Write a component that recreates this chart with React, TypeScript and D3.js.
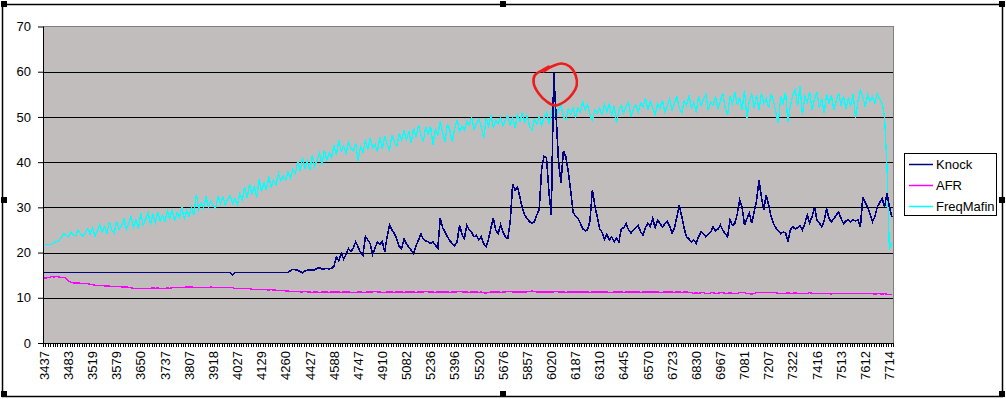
import React, { useEffect, useRef } from 'react';
import * as d3 from 'd3';

// rpm labels shown under every 10th category
const xTickLabels = [
  '3437', '3483', '3519', '3579', '3650', '3737', '3807', '3918', '4027', '4129',
  '4260', '4427', '4588', '4747', '4910', '5082', '5236', '5396', '5520', '5676',
  '5857', '6020', '6187', '6310', '6445', '6570', '6723', '6830', '6967', '7081',
  '7207', '7322', '7416', '7513', '7612', '7714',
];
const yTicks = [0, 10, 20, 30, 40, 50, 60, 70];

const knock = [
  15.6, 15.6, 15.6, 15.6, 15.6, 15.6, 15.6, 15.6, 15.6, 15.6,
  15.6, 15.6, 15.6, 15.6, 15.6, 15.6, 15.6, 15.6, 15.6, 15.6,
  15.6, 15.6, 15.6, 15.6, 15.6, 15.6, 15.6, 15.6, 15.6, 15.6,
  15.6, 15.6, 15.6, 15.6, 15.6, 15.6, 15.6, 15.6, 15.6, 15.6,
  15.6, 15.6, 15.6, 15.6, 15.6, 15.6, 15.6, 15.6, 15.6, 15.6,
  15.6, 15.6, 15.6, 15.6, 15.6, 15.6, 15.6, 15.6, 15.6, 15.6,
  15.6, 15.6, 15.6, 15.6, 15.6, 15.6, 15.6, 15.6, 15.6, 15.6,
  15.6, 15.6, 15.6, 15.6, 15.6, 15.6, 15.6, 15.6, 15.1, 15.6,
  15.6, 15.6, 15.6, 15.6, 15.6, 15.6, 15.6, 15.6, 15.6, 15.6,
  15.6, 15.6, 15.6, 15.6, 15.6, 15.6, 15.6, 15.6, 15.6, 15.6,
  15.6, 15.6, 16.0, 16.3, 16.2, 16.1, 15.8, 15.5, 15.9, 16.1,
  16.1, 16.1, 16.2, 16.5, 16.6, 16.4, 16.4, 16.5, 16.4, 16.5,
  17.0, 19.0, 18.2, 19.8, 18.6, 19.6, 20.9, 20.2, 21.0, 22.4,
  21.2, 20.0, 19.4, 23.6, 22.8, 22.0, 19.6, 21.0, 22.4, 21.8,
  22.4, 20.2, 23.5, 26.2, 25.0, 24.2, 23.0, 21.4, 20.9, 23.0,
  22.0, 21.2, 20.5, 19.8, 21.5, 22.8, 24.1, 23.0, 22.6, 22.4,
  22.0, 22.4, 21.6, 20.9, 27.6, 25.5, 24.5, 23.5, 22.6, 22.0,
  21.5, 22.4, 26.1, 24.0, 23.1, 26.1, 25.0, 24.5, 23.5, 23.8,
  22.8, 23.5, 22.0, 21.3, 23.0, 25.5, 27.6, 25.0, 24.2, 26.1,
  24.5, 23.5, 23.1, 27.0, 35.1, 33.8, 34.5, 32.3, 29.8, 28.3,
  27.5, 26.8, 26.5, 26.8, 28.3, 29.5, 38.5, 41.3, 41.0, 33.5,
  28.3, 59.6, 50.0, 40.0, 35.5, 42.5, 41.2, 38.0, 33.8, 29.0,
  28.0, 27.6, 26.5, 25.3, 24.8, 25.0, 27.0, 33.8, 30.5, 27.9,
  25.3, 24.5, 23.0, 24.0, 22.8, 23.5, 22.4, 23.2, 22.4, 25.3,
  25.5, 26.4, 25.0, 24.3, 25.0, 25.5, 26.0, 24.5, 23.9, 25.5,
  26.5, 25.8, 27.6, 25.5, 27.2, 26.5, 25.6, 26.4, 27.0, 25.8,
  24.3, 25.5, 27.9, 30.5, 28.0, 25.4, 23.5, 23.0, 22.4, 22.8,
  22.0, 23.5, 24.6, 24.2, 23.5, 24.0, 24.5, 25.7, 24.8, 25.2,
  26.1, 25.0, 24.2, 23.5, 27.2, 26.0, 26.5, 28.5, 31.6, 30.1,
  26.1, 27.5, 28.7, 26.5, 29.0, 31.5, 36.0, 32.3, 29.5, 32.7,
  30.5, 28.0, 26.4, 25.5, 24.8, 24.2, 24.5, 24.4, 22.4, 25.0,
  25.7, 25.2, 25.5, 26.0, 25.0, 26.5, 28.3, 26.5, 28.0, 30.1,
  27.2, 26.5, 25.7, 27.0, 29.8, 27.5, 26.8, 27.5, 28.3, 29.0,
  27.5, 26.4, 27.0, 27.2, 26.8, 27.2, 27.0, 27.2, 25.7, 32.3,
  31.0, 30.1, 28.5, 26.8, 28.0, 30.1, 31.0, 32.0, 30.1, 33.1,
  30.1, 27.9,
];

const afr = [
  14.4, 14.4, 14.5, 14.7, 14.6, 14.7, 14.6, 14.5, 14.5, 14.3,
  13.8, 13.4, 13.3, 13.3, 13.3, 13.2, 13.2, 13.1, 13.1, 13.0,
  12.9, 12.8, 12.7, 12.7, 12.7, 12.6, 12.6, 12.6, 12.5, 12.5,
  12.5, 12.5, 12.4, 12.4, 12.4, 12.3, 12.2, 12.1, 12.0, 12.0,
  12.0, 12.0, 12.1, 12.1, 12.1, 12.2, 12.1, 12.2, 12.1, 12.1,
  12.1, 12.2, 12.1, 12.2, 12.2, 12.2, 12.3, 12.2, 12.3, 12.4,
  12.4, 12.4, 12.3, 12.3, 12.3, 12.3, 12.3, 12.3, 12.3, 12.4,
  12.3, 12.3, 12.3, 12.3, 12.3, 12.2, 12.3, 12.3, 12.2, 12.1,
  12.1, 12.1, 12.0, 12.0, 12.0, 12.0, 11.9, 11.9, 11.9, 11.9,
  11.8, 11.8, 11.8, 11.7, 11.8, 11.7, 11.7, 11.6, 11.6, 11.6,
  11.5, 11.5, 11.4, 11.4, 11.4, 11.4, 11.3, 11.3, 11.4, 11.3,
  11.3, 11.2, 11.3, 11.3, 11.2, 11.3, 11.3, 11.3, 11.2, 11.3,
  11.3, 11.3, 11.3, 11.2, 11.3, 11.3, 11.3, 11.2, 11.2, 11.2,
  11.3, 11.3, 11.2, 11.2, 11.3, 11.3, 11.3, 11.4, 11.3, 11.3,
  11.2, 11.2, 11.3, 11.3, 11.3, 11.2, 11.3, 11.3, 11.3, 11.2,
  11.3, 11.3, 11.3, 11.3, 11.2, 11.3, 11.3, 11.3, 11.4, 11.3,
  11.3, 11.3, 11.2, 11.3, 11.3, 11.3, 11.3, 11.3, 11.2, 11.3,
  11.3, 11.3, 11.4, 11.3, 11.3, 11.3, 11.2, 11.3, 11.3, 11.3,
  11.2, 11.3, 11.1, 11.0, 11.2, 11.3, 11.3, 11.3, 11.3, 11.2,
  11.3, 11.3, 11.4, 11.4, 11.3, 11.3, 11.3, 11.3, 11.3, 11.3,
  11.3, 11.4, 11.5, 11.4, 11.3, 11.3, 11.3, 11.3, 11.3, 11.3,
  11.3, 11.3, 11.4, 11.3, 11.3, 11.3, 11.2, 11.3, 11.3, 11.3,
  11.3, 11.3, 11.3, 11.3, 11.3, 11.3, 11.2, 11.3, 11.3, 11.3,
  11.3, 11.3, 11.3, 11.3, 11.2, 11.2, 11.3, 11.3, 11.3, 11.3,
  11.2, 11.3, 11.3, 11.3, 11.3, 11.3, 11.3, 11.2, 11.3, 11.3,
  11.3, 11.3, 11.3, 11.3, 11.3, 11.2, 11.2, 11.3, 11.3, 11.3,
  11.3, 11.2, 11.3, 11.3, 11.2, 11.3, 11.3, 11.2, 11.1, 11.0,
  11.1, 11.0, 11.1, 11.1, 11.0, 10.9, 11.1, 11.1, 11.0, 11.0,
  11.1, 11.1, 11.0, 11.0, 11.1, 11.0, 10.9, 11.0, 11.1, 11.1,
  11.1, 11.0, 10.9, 10.8, 11.0, 11.1, 11.1, 11.1, 11.1, 11.1,
  11.1, 11.2, 11.2, 11.1, 11.0, 10.9, 11.0, 11.0, 11.1, 11.0,
  11.0, 11.1, 11.0, 11.0, 10.9, 11.0, 11.0, 11.1, 11.0, 11.0,
  11.0, 10.9, 11.0, 11.0, 11.0, 10.9, 10.8, 11.0, 10.9, 11.0,
  11.0, 11.0, 10.9, 11.0, 11.0, 10.9, 10.9, 11.0, 10.9, 10.9,
  10.9, 11.0, 10.9, 10.9, 10.8, 10.9, 10.9, 10.8, 10.9, 10.8,
  10.8, 10.8,
];

const freqMafin = [
  21.8, 21.8, 21.8, 21.8, 22.2, 22.4, 22.6, 23.3, 24.2, 23.8,
  23.5, 24.6, 24.0, 23.6, 25.0, 24.2, 23.5, 24.4, 25.3, 24.0,
  25.5, 23.6, 24.8, 26.2, 24.5, 25.8, 24.2, 26.8, 25.0, 24.3,
  27.0, 25.2, 25.8, 27.5, 25.0, 26.5, 28.0, 25.6, 27.2, 25.3,
  28.7, 26.0, 27.4, 28.9, 26.2, 28.4, 26.6, 29.0, 27.0, 28.2,
  26.8, 29.2, 27.5, 29.5, 27.0, 28.8, 27.8, 30.0, 27.5, 29.2,
  28.0, 30.1, 28.3, 32.9, 29.6, 31.0, 29.8, 32.5, 30.0, 31.5,
  30.4, 29.8, 32.5, 30.8, 32.3, 30.5, 31.8, 32.6, 30.8, 32.0,
  30.6, 33.0, 31.6, 34.5, 32.0, 35.2, 33.0, 34.6, 32.2, 36.2,
  33.5, 35.5, 33.8, 36.8, 34.5, 36.0, 35.0, 37.5, 35.8, 37.0,
  36.0, 37.9, 36.5, 38.5, 37.5, 40.0, 38.0, 41.0, 38.6, 40.2,
  38.2, 41.5, 39.0, 40.5, 42.0, 39.5, 42.6, 40.5, 42.0, 41.0,
  43.8, 41.5, 44.9, 42.5, 43.5, 41.9, 44.5, 43.0, 42.5, 44.2,
  40.3, 43.5, 42.2, 44.6, 42.8, 45.3, 43.2, 44.0, 42.3, 45.5,
  43.0, 45.8, 44.0, 42.6, 46.0, 44.5, 43.5, 46.3, 44.8, 47.0,
  45.0, 46.8, 44.2, 47.5, 45.5, 48.2, 46.0, 44.5, 47.8, 46.2,
  48.0, 43.8, 47.2, 46.0, 49.0, 46.5, 44.5, 48.5, 47.0, 44.5,
  47.5, 49.3, 46.8, 48.0, 47.0, 49.0, 48.2, 50.0, 47.2, 48.5,
  49.5, 47.8, 45.2, 49.8, 48.0, 50.4, 47.6, 49.2, 48.5, 50.0,
  48.0, 49.5, 50.2, 48.2, 49.8, 47.5, 50.5, 49.0, 51.0, 48.8,
  50.5, 47.8, 47.0, 49.5, 48.5, 50.0, 48.2, 49.8, 51.0, 48.5,
  50.8, 53.0, 49.5, 51.5, 52.5, 50.2, 49.3, 51.8, 50.5, 52.0,
  50.0, 52.0, 51.0, 53.3, 51.5, 52.8, 50.5, 49.3, 51.5, 50.8,
  51.9, 50.5, 52.8, 51.0, 53.0, 50.2, 52.5, 48.6, 51.5, 52.5,
  50.8, 52.5, 53.2, 50.0, 51.8, 52.6, 51.0, 53.0, 52.2, 54.1,
  51.5, 53.5, 52.0, 50.4, 53.0, 51.8, 53.8, 51.0, 52.5, 54.0,
  51.5, 53.0, 54.5, 52.0, 50.8, 53.5, 52.5, 54.8, 52.0, 53.2,
  51.0, 54.5, 52.5, 53.8, 55.0, 51.5, 53.2, 52.6, 54.5, 51.8,
  53.5, 55.2, 52.0, 50.4, 54.5, 53.0, 55.5, 52.8, 54.2, 51.5,
  55.9, 49.7, 53.5, 55.0, 52.0, 54.8, 51.5, 55.2, 53.0, 54.0,
  52.0, 55.0, 53.5, 51.0, 48.6, 54.5, 53.0, 55.5, 48.8, 52.5,
  54.8, 56.0, 52.5, 56.8, 50.4, 54.5, 53.2, 55.5, 51.5, 54.0,
  55.5, 52.0, 54.0, 50.8, 55.0, 53.0, 54.8, 51.5, 53.5, 55.2,
  52.5, 54.5, 51.8, 54.0, 52.5, 55.0, 49.7, 53.5, 55.9, 54.5,
  52.2, 55.0, 53.5, 54.5, 53.0, 55.2, 54.0, 53.0, 50.0, 39.0,
  20.6, 22.4,
];

const seriesNames = ['Knock', 'AFR', 'FreqMafin'];
const seriesColors = ['#000080', '#ff00ff', '#00ffff'];

// hand drawn red ring around the knock spike, offsets in px from the peak point
const ringOffsets = [
  [-10, -2], [-2, -7], [8, -10], [16, -7], [22, 2], [23, 12], [19, 20],
  [11, 28], [1, 32], [-7, 28], [-15, 20], [-20, 10], [-19, 2], [-12, -3], [-5, -7],
];

const App = () => {
  const svgRef = useRef<SVGSVGElement>(null);

  useEffect(() => {
    document.body.style.margin = '0';
    const w = 1006;
    const h = 399;
    const left = 43, right = 893, top = 26.5, bottom = 343;
    const svg = d3.select(svgRef.current).attr('width', w).attr('height', h);
    svg.selectAll('*').remove();

    const font = '"Liberation Sans", Arial, sans-serif';

    // chart frame
    svg.append('rect')
      .attr('x', 2.5).attr('y', 4.5).attr('width', 1000).attr('height', 392)
      .attr('fill', '#fff').attr('stroke', '#000').attr('stroke-width', 1.5);

    const n = knock.length;
    const x = d3.scaleBand<number>().domain(d3.range(n)).range([left, right]);
    const cx = (i: number) => (x(i) as number) + x.bandwidth() / 2;
    const y = d3.scaleLinear().domain([0, 70]).range([bottom, top]);

    svg.append('rect')
      .attr('x', left).attr('y', top).attr('width', right - left).attr('height', bottom - top)
      .attr('fill', '#c0bdbc').attr('stroke', '#808080').attr('stroke-width', 1)
      .attr('shape-rendering', 'crispEdges');

    // gridlines
    svg.append('g').selectAll('line')
      .data(yTicks.filter(d => d > 0 && d < 70))
      .join('line')
      .attr('x1', left).attr('x2', right)
      .attr('y1', d => Math.round(y(d)) + 0.5).attr('y2', d => Math.round(y(d)) + 0.5)
      .attr('stroke', '#000').attr('stroke-width', 1);

    // y axis
    const yAxis = svg.append('g')
      .attr('transform', `translate(${left},0)`)
      .call(d3.axisLeft(y).tickValues(yTicks).tickSize(5).tickSizeOuter(0).tickPadding(7));
    yAxis.select('.domain').attr('stroke', '#000');
    yAxis.selectAll('.tick line').attr('stroke', '#000');
    yAxis.selectAll('text').attr('font-family', font).attr('font-size', 13).attr('fill', '#000');

    // x axis: tick marks at every category boundary
    const bounds = d3.range(n + 1).map(i => (i < n ? (x(i) as number) : right));
    const xg = svg.append('g');
    xg.append('line')
      .attr('x1', left).attr('x2', right).attr('y1', bottom + 0.5).attr('y2', bottom + 0.5)
      .attr('stroke', '#000');
    xg.selectAll('line.tk')
      .data(bounds)
      .join('line')
      .attr('class', 'tk')
      .attr('x1', d => Math.round(d) + 0.5).attr('x2', d => Math.round(d) + 0.5)
      .attr('y1', bottom).attr('y2', bottom + 4)
      .attr('stroke', '#000');
    xg.selectAll('text')
      .data(xTickLabels)
      .join('text')
      .attr('transform', (d, k) => `translate(${cx(k * 10)},${bottom + 8}) rotate(-90)`)
      .attr('text-anchor', 'end')
      .attr('dy', '0.36em')
      .attr('font-family', font)
      .attr('font-size', 13)
      .text(d => d);

    // series, drawn aliased like the old spreadsheet renderer
    const line = d3.line<number>().x((d, i) => cx(i)).y(d => y(d));
    const data = [knock, afr, freqMafin];
    const widths = [1.6, 1.3, 1.3];
    // draw order: FreqMafin, AFR, Knock on top
    [2, 1, 0].forEach(s => {
      svg.append('path')
        .datum(data[s])
        .attr('d', line)
        .attr('fill', 'none')
        .attr('stroke', seriesColors[s])
        .attr('stroke-width', widths[s])
        .attr('shape-rendering', 'crispEdges');
    });

    // left axis line on top
    svg.append('line')
      .attr('x1', left + 0.5).attr('x2', left + 0.5).attr('y1', top).attr('y2', bottom + 1)
      .attr('stroke', '#000');

    // red ring annotation around knock spike
    const peakI = d3.maxIndex(knock);
    const px = cx(peakI);
    const py = y(knock[peakI]);
    svg.append('path')
      .datum(ringOffsets)
      .attr('d', d3.line<number[]>().x(d => px + d[0]).y(d => py + d[1]).curve(d3.curveCatmullRom))
      .attr('fill', 'none')
      .attr('stroke', '#ee1c1c')
      .attr('stroke-width', 2.6)
      .attr('stroke-linecap', 'round');

    // legend
    const lg = svg.append('g');
    lg.append('rect')
      .attr('x', 904.5).attr('y', 153.5).attr('width', 92).attr('height', 62)
      .attr('fill', '#fff').attr('stroke', '#000');
    seriesNames.forEach((name, k) => {
      const ly = 164.5 + k * 21;
      lg.append('line')
        .attr('x1', 909).attr('x2', 933).attr('y1', ly).attr('y2', ly)
        .attr('stroke', seriesColors[k]).attr('stroke-width', 1.5);
      lg.append('text')
        .attr('x', 936).attr('y', ly).attr('dy', '0.36em')
        .attr('font-family', font).attr('font-size', 13)
        .text(name);
    });

    // selection handles
    const hx = [4, 503, 1002];
    const hy = [4, 200, 394];
    const handles: number[][] = [];
    hx.forEach(a => hy.forEach(b => { if (!(a === 503 && b === 200)) handles.push([a, b]); }));
    svg.append('g').selectAll('rect')
      .data(handles)
      .join('rect')
      .attr('x', d => d[0] - 3).attr('y', d => d[1] - 3)
      .attr('width', 6).attr('height', 6)
      .attr('fill', '#000');
  }, []);

  return <svg ref={svgRef} style={{ display: 'block' }}></svg>;
};

export default App;
